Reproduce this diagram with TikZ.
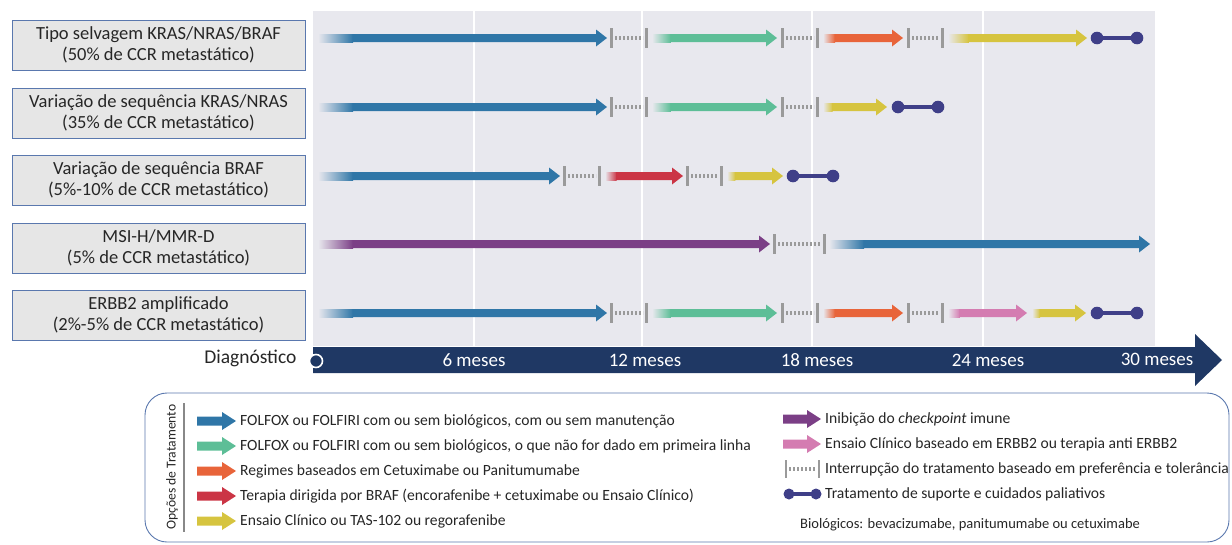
\documentclass[tikz,border=0pt]{standalone}
\usepackage{fontspec}
\setmainfont{Carlito}
\usetikzlibrary{arrows.meta,calc,positioning}
\definecolor{ink}{HTML}{262626}
\definecolor{fundo}{HTML}{E8E8EE}
\definecolor{caixacor}{HTML}{E6E6E6}
\definecolor{borda}{HTML}{5A78AE}
\definecolor{eixo}{HTML}{1F3864}
\definecolor{azul}{HTML}{2F76A7}
\definecolor{verde}{HTML}{5DBE97}
\definecolor{laranja}{HTML}{E8643A}
\definecolor{vermelho}{HTML}{CB3545}
\definecolor{amarelo}{HTML}{D6C43F}
\definecolor{roxo}{HTML}{7B3F86}
\definecolor{rosa}{HTML}{D47CB1}
\definecolor{paliativo}{HTML}{3F3F88}
\definecolor{pausacor}{HTML}{9A9A9A}

\begin{document}
\begin{tikzpicture}[
  x=1pt,y=-1pt,
  font=\fontsize{15.6}{18}\selectfont,
  line cap=butt,line join=miter,
  caixa/.style={draw=borda,line width=.9pt,fill=caixacor,minimum width=293pt,minimum height=50pt,
    align=center,text=ink,inner sep=0pt,font=\fontsize{18.5}{21}\selectfont},
  mes/.style={text=white,font=\fontsize{19}{21}\selectfont},
  legenda/.style={anchor=west,text=ink,inner sep=0pt},
  barra/.style={draw=pausacor,line width=3pt},
  pontilhado/.style={draw=pausacor,line width=4pt,dash pattern=on 1.6pt off 2.4pt},
  grade/.style={draw=white,line width=2.2pt}
]
\useasboundingbox (0,0) rectangle (1232,544);

% Chart area with month grid
\fill[fundo] (313,11) rectangle (1155,346);
\foreach \gx in {474,642,812,983}
  \draw[grade] (\gx,11) -- (\gx,346);

% Patient groups
\node[caixa] (tipo)  at (158.5,45)  {Tipo selvagem KRAS/NRAS/BRAF\\(50\% de CCR metastático)};
\node[caixa] (kras)  at (158.5,113) {Variação de sequência KRAS/NRAS\\(35\% de CCR metastático)};
\node[caixa] (braf)  at (158.5,180) {Variação de sequência BRAF\\(5\%-10\% de CCR metastático)};
\node[caixa] (msi)   at (158.5,248) {MSI-H/MMR-D\\(5\% de CCR metastático)};
\node[caixa] (erbb2) at (158.5,315) {ERBB2 amplificado\\(2\%-5\% de CCR metastático)};

% Treatment lines (shaft fades in from the chart background)
\foreach \y/\a/\b/\c in {
  38/318/607/azul, 38/652/777/verde, 38/823/903/laranja, 38/948/1087/amarelo,
  107/318/607/azul, 107/652/777/verde, 107/823/887/amarelo,
  176/318/560/azul, 176/605/683/vermelho, 176/727/783/amarelo,
  244/318/770/roxo, 244/829/1150/azul,
  313/318/607/azul, 313/652/777/verde, 313/823/903/laranja, 313/948/1027/rosa, 313/1032/1086/amarelo}{
  \pgfmathsetmacro\f{min(35,0.15*(\b-\a))}
  \shade[left color=fundo,right color=\c] (\a,\y-4) rectangle ({\a+\f},\y+4);
  \fill[\c] ({\a+\f-.5},\y-4) -- ({\b-11},\y-4) -- ({\b-11},\y-8.5) -- (\b,\y)
    -- ({\b-11},\y+8.5) -- ({\b-11},\y+4) -- ({\a+\f-.5},\y+4) -- cycle;
}

% Treatment interruptions
\foreach \y/\a/\b in {38/611/646, 38/782/817, 38/908/942, 107/611/646, 107/782/817,
  176/564/599, 176/687/721, 244/774/824, 313/611/646, 313/782/817, 313/908/942}{
  \draw[barra] (\a,\y-10) -- (\a,\y+10);
  \draw[barra] (\b,\y-10) -- (\b,\y+10);
  \draw[pontilhado] (\a+4,\y) -- (\b-3,\y);
}

% Supportive and palliative care
\foreach \y/\a/\b in {38/1097/1137, 107/898/938, 176/793/833, 313/1097/1137}{
  \draw[paliativo,line width=4pt] (\a,\y) -- (\b,\y);
  \fill[paliativo] (\a,\y) circle (6.3) (\b,\y) circle (6.3);
}

% Time axis
\fill[eixo] (313,347) -- (1195,347) -- (1195,334) -- (1222,360) -- (1195,386)
  -- (1195,373) -- (313,373) -- cycle;
\filldraw[fill=eixo,draw=white,line width=1.6pt] (316,361) circle (6.5);
\node[anchor=east,text=ink,font=\fontsize{19.5}{21}\selectfont] (diag) at (300,358) {Diagnóstico};
\node[mes] (m6)  at (474,360)  {6 meses};
\node[mes] (m12) at (645,360)  {12 meses};
\node[mes] (m18) at (817,360)  {18 meses};
\node[mes] (m24) at (988,360)  {24 meses};
\node[mes] (m30) at (1157,359) {30 meses};

% Legend
\draw[draw=borda,line width=.9pt,rounded corners=22pt] (145,393) rectangle (1229,542);
\node[rotate=90,text=ink,font=\fontsize{13.6}{15}\selectfont] (opcoes) at (172,467) {Opções de Tratamento};
\draw[draw=ink!55,line width=1.4pt] (184,403) -- (184,532);
\foreach \y/\c in {421/azul,446/verde,471/laranja,496/vermelho,521/amarelo}
  \fill[\c] (197,\y-4.5) -- (222,\y-4.5) -- (222,\y-9) -- (236,\y) -- (222,\y+9)
    -- (222,\y+4.5) -- (197,\y+4.5) -- cycle;
\foreach \y/\c in {419/roxo,444/rosa}
  \fill[\c] (783,\y-4.5) -- (807,\y-4.5) -- (807,\y-9) -- (821,\y) -- (807,\y+9)
    -- (807,\y+4.5) -- (783,\y+4.5) -- cycle;
\draw[barra,line width=2.5pt] (786,460) -- (786,478) (819,460) -- (819,478);
\draw[pontilhado,line width=3.5pt] (789,469) -- (816,469);
\draw[paliativo,line width=3.5pt] (789,494) -- (816,494);
\fill[paliativo] (789,494) circle (5.5) (816,494) circle (5.5);

\node[legenda] (leg1) at (240,421) {FOLFOX ou FOLFIRI com ou sem biológicos, com ou sem manutenção};
\node[legenda] (leg2) at (240,446) {FOLFOX ou FOLFIRI com ou sem biológicos, o que não for dado em primeira linha};
\node[legenda] (leg3) at (240,471) {Regimes baseados em Cetuximabe ou Panitumumabe};
\node[legenda] (leg4) at (240,496) {Terapia dirigida por BRAF (encorafenibe + cetuximabe ou Ensaio Clínico)};
\node[legenda] (leg5) at (240,521) {Ensaio Clínico ou TAS-102 ou regorafenibe};
\node[legenda] (leg6) at (825,419) {Inibição do \textit{checkpoint} imune};
\node[legenda] (leg7) at (825,444) {Ensaio Clínico baseado em ERBB2 ou terapia anti ERBB2};
\node[legenda] (leg8) at (825,469) {Interrupção do tratamento baseado em preferência e tolerância};
\node[legenda] (leg9) at (825,494) {Tratamento de suporte e cuidados paliativos};
\node[legenda,font=\fontsize{14.5}{16}\selectfont] (bio) at (800,525)
  {Biológicos: bevacizumabe, panitumumabe ou cetuximabe};
\end{tikzpicture}
\end{document}
